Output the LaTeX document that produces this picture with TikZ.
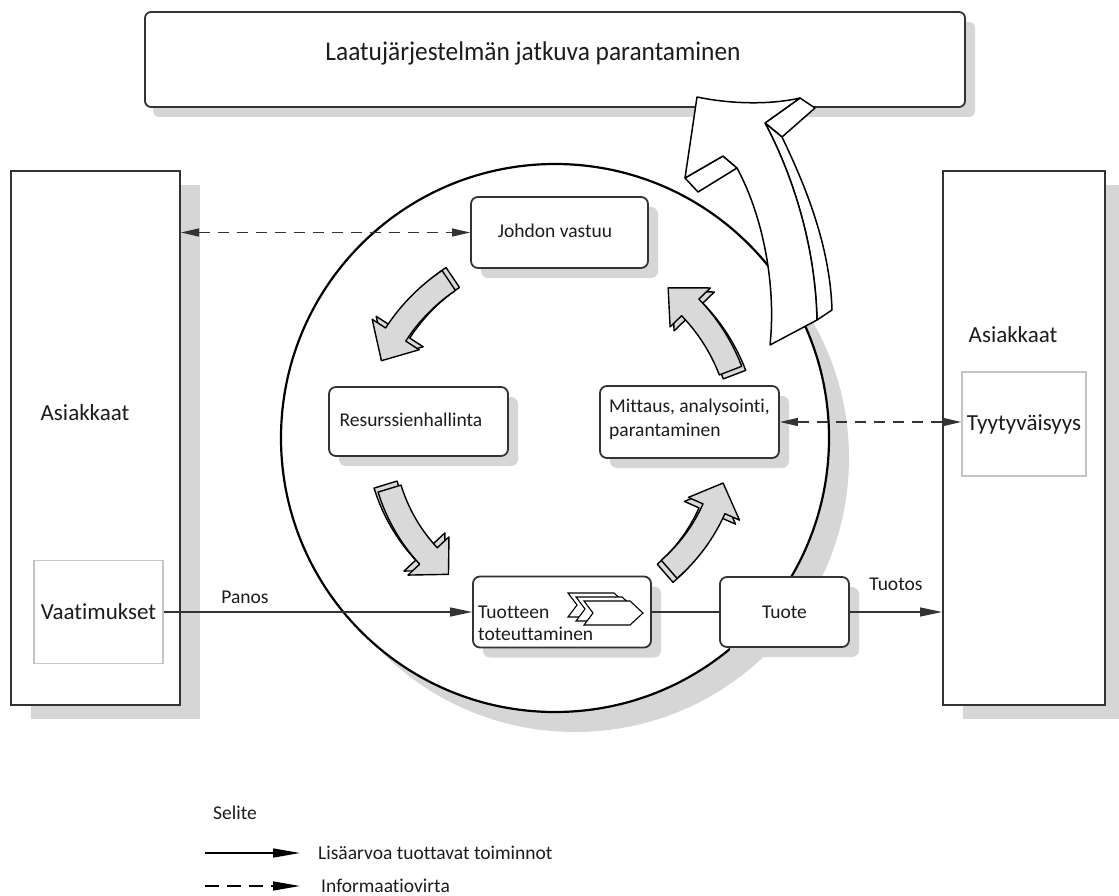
\documentclass[tikz,border=0pt]{standalone}
\usepackage{fontspec}
\setmainfont{Carlito}[Ligatures=NoCommon]
\usetikzlibrary{arrows.meta,shadows}
\definecolor{shd}{HTML}{D6D6D6}
\definecolor{edgec}{HTML}{333333}
\definecolor{agray}{HTML}{D9D9D9}
\definecolor{lboxc}{HTML}{C4C4C4}
\definecolor{txt}{HTML}{1C1C1C}
\newcommand\garrow[5]{%
  \pgfmathsetmacro\gAh{#2-9}%
  \pgfmathsetmacro\gRi{#3-12}\pgfmathsetmacro\gRo{#3+12}%
  \pgfmathsetmacro\gHi{#3-28}\pgfmathsetmacro\gHo{#3+28}%
  \begin{scope}[shift={(555,-438)}]
  \foreach \sx/\sy in {#4/#5,0/0}{%
    \begin{scope}[xshift=\sx pt, yshift=\sy pt]
    \draw[garr] (#1:\gRi) arc[start angle=#1, end angle=\gAh, radius=\gRi]
      -- (\gAh:\gHi) -- (#2:#3) -- (\gAh:\gHo) -- (\gAh:\gRo)
      arc[start angle=\gAh, end angle=#1, radius=\gRo] -- cycle;
    \end{scope}}
  \end{scope}}
\begin{document}
\begin{tikzpicture}[x=1pt,y=1pt,
  font=\fontsize{19.5}{23}\selectfont, text=txt,
  bigrect/.style={draw=edgec, line width=2pt, fill=white, inner sep=0pt,
    drop shadow={shadow xshift=20pt, shadow yshift=-14pt, fill=shd, opacity=1}},
  rbox/.style={draw=edgec, line width=1.8pt, rounded corners=7pt, fill=white, inner sep=0pt, align=center,
    drop shadow={shadow xshift=10pt, shadow yshift=-10pt, fill=shd, opacity=1}},
  lightbox/.style={draw=lboxc, line width=1.5pt, fill=white, inner sep=0pt},
  flow/.style={draw=edgec, line width=1.3pt, -{Triangle[length=22pt,width=9pt]}},
  plainline/.style={draw=edgec, line width=1.3pt},
  info/.style={draw=edgec, line width=1.3pt, dash pattern=on 11pt off 8pt,
    {Triangle[length=18pt,width=8pt]}-{Triangle[length=18pt,width=8pt]}},
  legflow/.style={draw=black, line width=1.5pt, -{Triangle[length=27pt,width=9pt]}},
  leginfo/.style={draw=black, line width=1.5pt, dash pattern=on 14pt off 8pt, -{Triangle[length=27pt,width=9pt]}},
  garr/.style={fill=agray, draw=black, line width=1.4pt, line join=round},
  barr/.style={fill=white, draw=black, line width=1.5pt, line join=round},
  chev/.style={fill=white, draw=black, line width=1.1pt, line join=miter},
  big/.style={font=\fontsize{23}{27}\selectfont}
]
\useasboundingbox (0,0) rectangle (1119,-896);

% top box
\node[rbox, rounded corners=6pt, minimum width=820pt, minimum height=95pt,
  drop shadow={shadow xshift=8pt, shadow yshift=-10pt, fill=shd, opacity=1}] (top) at (555,-59.5) {};
\node[font=\fontsize{27}{30}\selectfont] (toptxt) at (533,-53) {\scalebox{0.94}[1]{Laatujärjestelmän jatkuva parantaminen}};

% customer columns
\node[bigrect, minimum width=169pt, minimum height=534pt] (lr) at (95.5,-438) {};
\node[bigrect, minimum width=162pt, minimum height=534pt] (rr) at (1024,-438) {};
\node[big] (asl) at (85,-413) {Asiakkaat};
\node[big] (asr) at (1013,-335) {Asiakkaat};
\node[lightbox, minimum width=129pt, minimum height=103pt, big] (vaat) at (98.5,-612) {Vaatimukset};
\node[lightbox, minimum width=124pt, minimum height=104pt, big] (tyy) at (1024,-424) {Tyytyväisyys};

% circle
\node[circle, draw=black, line width=2.2pt, fill=white, minimum size=548pt, inner sep=0pt,
  drop shadow={shadow xshift=20pt, shadow yshift=-20pt, fill=shd, opacity=1}] (cyc) at (555,-438) {};

% process boxes
\node[rbox, minimum width=177pt, minimum height=71pt] (jv) at (559.5,-232.5) {};
\node (jvt) at (555,-231) {Johdon vastuu};
\node[rbox, minimum width=179pt, minimum height=69pt] (res) at (418.5,-421.5) {};
\node (rest) at (411,-420) {Resurssienhallinta};
\node[rbox, minimum width=179pt, minimum height=72pt] (mit) at (689.5,-422) {};
\node[align=left, font=\fontsize{19.5}{24}\selectfont] (mitt) at (689.5,-419) {Mittaus, analysointi,\\parantaminen};
\node[rbox, minimum width=178pt, minimum height=71pt] (tt) at (562,-612) {};
\node[align=left, anchor=west, inner sep=0pt, font=\fontsize{19.5}{22}\selectfont] (ttt) at (478,-623) {Tuotteen\\toteuttaminen};
\node[rbox, minimum width=129pt, minimum height=70pt] (tuote) at (784.5,-612) {Tuote};

% chevrons
\foreach \dx/\dy in {-16/8,-8/4,0/0}{
  \draw[chev, xshift=\dx pt, yshift=\dy pt] (584,-601) -- (630,-601) -- (643,-613) -- (630,-625) -- (584,-625) -- (593,-613) -- cycle;
}

% gray cycle arrows
\garrow{124}{156}{190}{4}{3}
\garrow{197}{232}{173}{-4}{4}
\garrow{-49}{-15}{174}{-4}{-4}
\garrow{21}{53}{188}{4}{-4}

% big white arrow into the top box
\draw[barr] (800,-98) -- (815,-108) -- (782,-137) -- (765,-123) -- cycle;
\draw[barr] (765,-123) -- (782,-137) .. controls (805,-185) and (830,-245) .. (832,-310)
  -- (817,-320) .. controls (815,-240) and (790,-170) .. (765,-123) -- cycle;
\draw[barr] (685,-178) -- (723,-156) -- (737,-168) -- (698,-192) -- cycle;
\draw[barr] (697,-97) .. controls (730,-104) and (770,-105) .. (800,-98) -- (765,-123)
  .. controls (790,-170) and (815,-240) .. (817,-320) -- (770,-345)
  .. controls (776,-290) and (765,-220) .. (737,-168) -- (723,-156) -- (685,-178) -- cycle;

% connectors
\draw[flow] (vaat.east) -- (tt.west);
\node (panos) at (245,-597) {Panos};
\draw[plainline] (tt.east) -- (tuote.west);
\draw[flow] (tuote.east) -- (rr.west |- tuote.east);
\node (tuotos) at (896,-584) {Tuotos};
\draw[info] (lr.east |- jv.west) -- (jv.west);
\draw[info] (mit.east) -- (tyy.west |- mit.east);

% legend
\node (selite) at (235,-813) {Selite};
\coordinate (l1a) at (205,-853); \coordinate (l1b) at (300,-853);
\coordinate (l2a) at (205,-886); \coordinate (l2b) at (300,-886);
\draw[legflow] (l1a) -- (l1b);
\draw[leginfo] (l2a) -- (l2b);
\node[anchor=west, inner sep=0pt] (leg1) at (318,-853) {Lisäarvoa tuottavat toiminnot};
\node[anchor=west, inner sep=0pt] (leg2) at (321,-886) {Informaatiovirta};
\end{tikzpicture}
\end{document}
